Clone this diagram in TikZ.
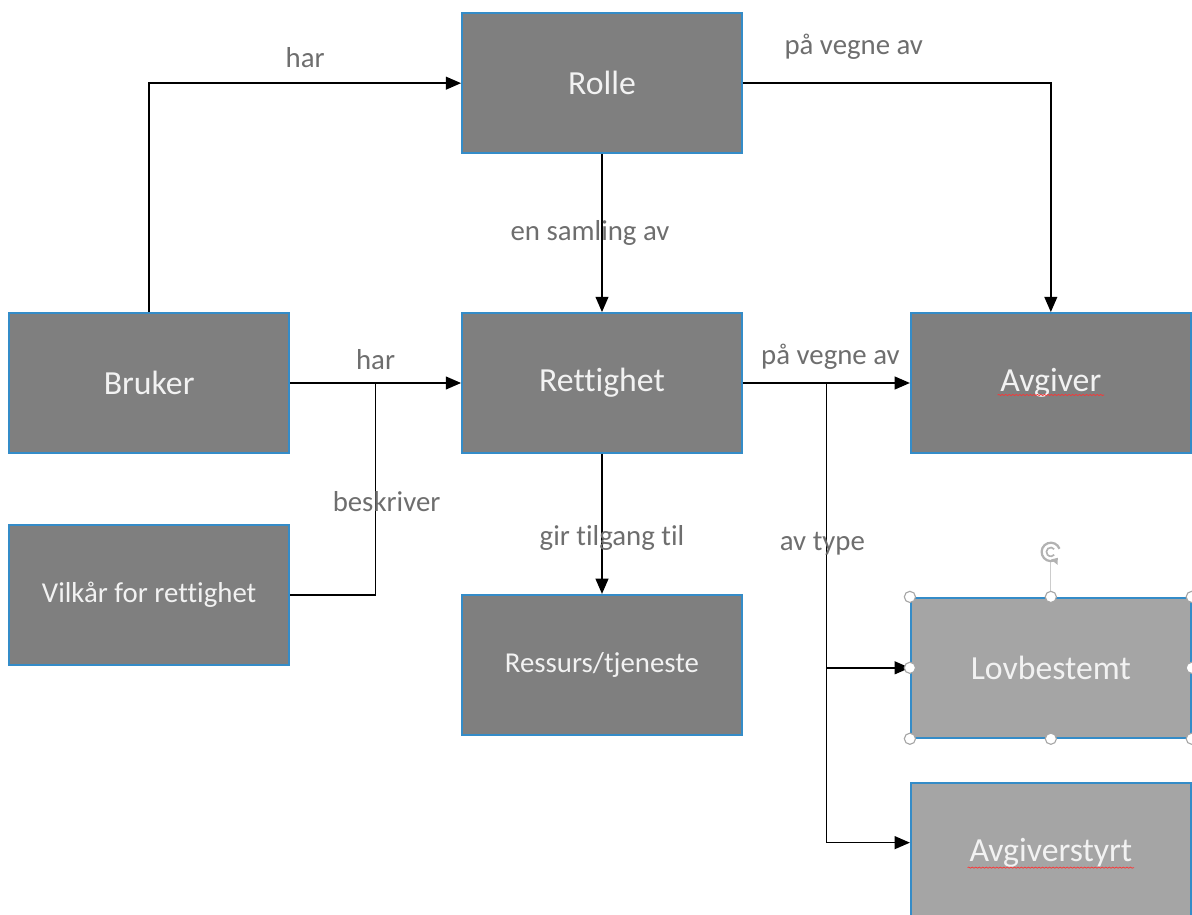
\documentclass[tikz,border=0pt]{standalone}
\usepackage{fontspec}
\setmainfont[Ligatures={NoCommon}]{Carlito}
\usepackage{tikz}
\usetikzlibrary{positioning,calc,arrows.meta,decorations.pathmorphing}

\definecolor{boxgray}{RGB}{127,127,127}
\definecolor{lightbox}{RGB}{165,165,165}
\definecolor{boxblue}{RGB}{52,140,200}
\definecolor{labelgray}{RGB}{110,110,110}
\definecolor{boxtext}{RGB}{242,242,242}

\begin{document}
\begin{tikzpicture}[
    box/.style={rectangle, draw=boxblue, line width=1.3pt, fill=boxgray, text=boxtext, minimum width=7cm, minimum height=3.5cm, font=\fontsize{24}{28}\selectfont},
    smallbox/.style={box, font=\fontsize{20.5}{24}\selectfont},
    typebox/.style={box, fill=lightbox},
    arrow/.style={-{Triangle[length=0.38cm,width=0.32cm]}, line width=1.1pt},
    line/.style={line width=1.1pt},
    lbl/.style={text=labelgray, font=\fontsize{20.5}{24}\selectfont},
    handle/.style={draw=gray!70, fill=white, line width=0.8pt},
    squiggle/.style={red!80, line width=0.5pt, decorate, decoration={snake, amplitude=0.4pt, segment length=2.5pt}}
]

\clip (-15.05,9.575) rectangle (14.75,-13.3);

% Boxes
\node[box] (rettighet) at (0,0) {Rettighet};
\node[box, above=3.95cm of rettighet] (rolle) {Rolle};
\node[box, left=4.275cm of rettighet] (bruker) {Bruker};
\node[box, right=4.175cm of rettighet] (avgiver) {Avgiver};
\node[smallbox, below=1.75cm of bruker] (vilkar) {Vilkår for rettighet};
\node[smallbox, below=3.5cm of rettighet] (ressurs) {Ressurs/tjeneste};
\node[typebox, below=3.575cm of avgiver] (lovbestemt) {Lovbestemt};
\node[typebox, below=1.075cm of lovbestemt] (avgiverstyrt) {Avgiverstyrt};

% Junctions
\coordinate (j1) at ($(bruker.east)!0.5!(rettighet.west)$);
\coordinate (j2) at ($(rettighet.east)!0.5!(avgiver.west)$);

% Connections
\draw[arrow] (bruker.north) |- (rolle.west) node[lbl, pos=0.75, above=0.25cm] {har};
\draw[arrow] (rolle.east) -| (avgiver.north) node[lbl, pos=0.18, above=0.45cm] {på vegne av};
\draw[arrow] (rolle) -- (rettighet) node[lbl, midway, xshift=-0.3cm] {en samling av};
\draw[arrow] (bruker) -- (rettighet) node[lbl, midway, above=0.2cm] {har};
\draw[line] (vilkar.east) -| (j1) node[lbl, pos=0.72, xshift=0.275cm] {beskriver};
\draw[arrow] (rettighet.east) -- (avgiver.west) node[lbl, midway, above=0.2cm, xshift=0.1cm] {på vegne av};
\draw[arrow] (rettighet) -- (ressurs) node[lbl, midway, yshift=-0.35cm, xshift=0.25cm] {gir tilgang til};
\draw[arrow] (j2) |- (lovbestemt.west);
\draw[arrow] (j2) |- ([yshift=0.25cm]avgiverstyrt.west) node[lbl, pos=0.175, xshift=-0.1cm] {av type};

% Spelling marks
\draw[squiggle] ($(avgiver.center)+(-1.33,-0.3)$) -- ($(avgiver.center)+(1.33,-0.3)$);
\draw[squiggle] ($(avgiverstyrt.center)+(-2.08,-0.375)$) -- ($(avgiverstyrt.center)+(2.08,-0.375)$);

% Selection handles
\coordinate[above=1.125cm of lovbestemt.north] (rot);
\draw[gray!40, line width=0.8pt] (lovbestemt.north) -- ([yshift=-0.25cm]rot);
\foreach \a in {north west, north, north east, east, south east, south, south west, west}
    \draw[handle] (lovbestemt.\a) circle (0.14cm);
\draw[gray!60, line width=1.6pt, -{Triangle[length=0.14cm,width=0.2cm]}] ([shift={(20:0.23cm)}]rot) arc (20:320:0.23cm);
\draw[gray!60, line width=1.2pt] ([shift={(40:0.11cm)}]rot) arc (40:320:0.11cm);

\end{tikzpicture}
\end{document}
